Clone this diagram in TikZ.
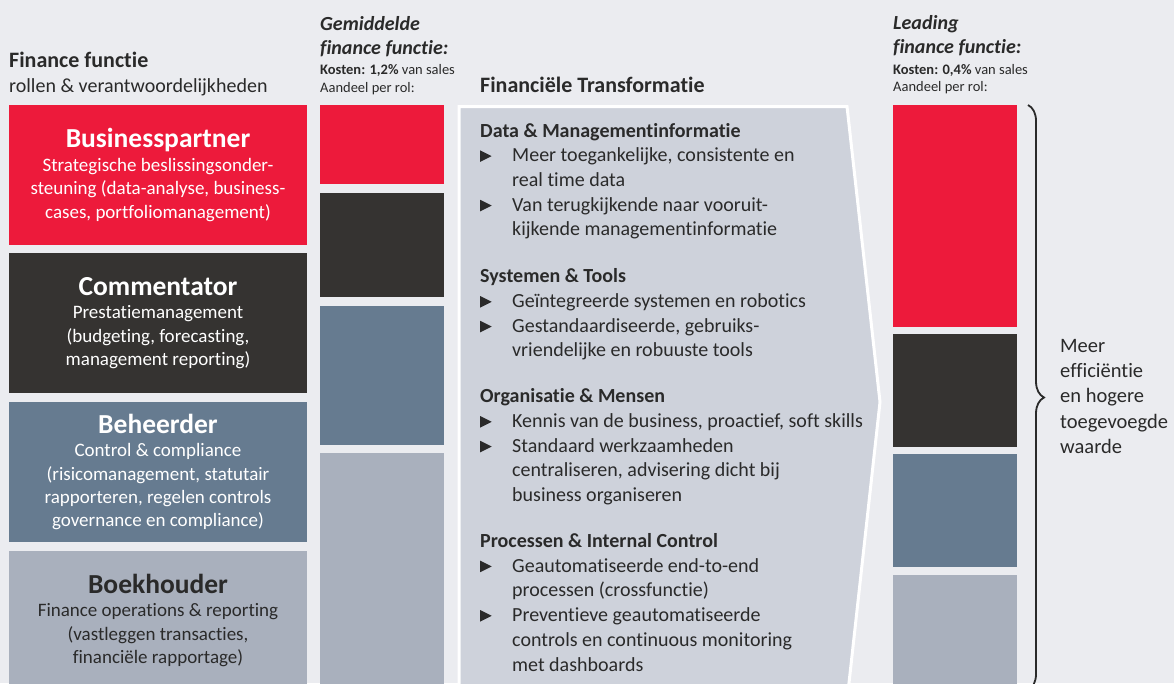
\documentclass[tikz,border=0pt]{standalone}
\usepackage{fontspec}
\setmainfont{Carlito}[Ligatures=NoCommon]
\usepackage{tikz}
\usetikzlibrary{decorations.pathreplacing}

\definecolor{bgGrey}{HTML}{EBECF0}
\definecolor{bpRed}{HTML}{ED1A3B}
\definecolor{cmDark}{HTML}{353331}
\definecolor{bhSlate}{HTML}{667B90}
\definecolor{bkLight}{HTML}{A9B0BD}
\definecolor{arrowGrey}{HTML}{CED2DB}
\definecolor{txtDark}{HTML}{2A2A2A}

\newcommand{\bul}{\makebox[32pt][l]{\tikz[baseline=0pt]\fill[txtDark] (0pt,0pt)--(0pt,11.5pt)--(11.5pt,5.75pt)--cycle;}}
\newcommand{\ind}{\hspace*{32pt}}
\newcommand{\roletitle}[1]{{\fontsize{27.5}{23.4}\selectfont\bfseries #1}}

\begin{document}
\begin{tikzpicture}[x=1pt,y=-1pt,
    rolebox/.style={minimum width=298pt,minimum height=140pt,inner sep=0pt,align=center,text=white,font=\fontsize{19}{23.4}\selectfont},
    bodytext/.style={anchor=north west,inner sep=0pt,align=left,text=txtDark,font=\fontsize{20}{24.7}\selectfont},
    headtext/.style={anchor=base west,inner sep=0pt,text=txtDark},
    bigitalic/.style={headtext,font=\fontsize{20}{24}\selectfont\bfseries\itshape},
    smalltext/.style={headtext,font=\fontsize{14.5}{18}\selectfont}]
                          \fill[bgGrey] (0,0) rectangle (1174,683);
                          \useasboundingbox (0,0) rectangle (1174,683);
                          \begin{scope}
                          \clip (0,0) rectangle (1174,683);
                          % rollen
                          \node[rolebox,fill=bpRed] (bp) at (158,175) {\roletitle{Businesspartner}\\Strategische beslissingsonder-\\steuning (data-analyse, business-\\cases, portfoliomanagement)};
                          \node[rolebox,fill=cmDark] (cm) at (158,323) {\roletitle{Commentator}\\Prestatiemanagement\\(budgeting, forecasting,\\management reporting)};
                          \node[rolebox,fill=bhSlate] (bh) at (158,472) {\roletitle{Beheerder}\\Control \& compliance\\(risicomanagement, statutair\\rapporteren, regelen controls\\governance en compliance)};
                          \node[rolebox,fill=bkLight,text=txtDark,minimum height=139pt] (bk) at (158,620.5) {\roletitle{Boekhouder}\\Finance operations \& reporting\\(vastleggen transacties,\\financi\"ele rapportage)};
                          % gemiddelde finance functie
                          \fill[bpRed] (320,105) rectangle (444,184);
                          \fill[cmDark] (320,193) rectangle (444,297);
                          \fill[bhSlate] (320,306) rectangle (444,445);
                          \fill[bkLight] (320,453) rectangle (444,690);
                          % leading finance functie
                          \fill[bpRed] (893,105) rectangle (1017,327);
                          \fill[cmDark] (893,334) rectangle (1017,447);
                          \fill[bhSlate] (893,454) rectangle (1017,567);
                          \fill[bkLight] (893,575) rectangle (1017,690);
                          % transformatie pijl
                          \filldraw[fill=arrowGrey,draw=white,line width=3pt,line join=miter]
                            (459,106.5) -- (847,106.5) -- (880,402) -- (848,692) -- (459,692) -- cycle;
                          \end{scope}
                          \node[bodytext] (dmi) at (480,119.7) {\strut\textbf{Data \& Managementinformatie}\\
                            \bul Meer toegankelijke, consistente en\\
                            \ind real time data\\
                            \bul Van terugkijkende naar vooruit-\\
                            \ind kijkende managementinformatie};
                          \node[bodytext] (syt) at (480,265.4) {\strut\textbf{Systemen \& Tools}\\
                            \bul Ge\"integreerde systemen en robotics\\
                            \bul Gestandaardiseerde, gebruiks-\\
                            \ind vriendelijke en robuuste tools};
                          \node[bodytext] (org) at (480,385.4) {\strut\textbf{Organisatie \& Mensen}\\
                            \bul Kennis van de business, proactief, soft skills\\
                            \bul Standaard werkzaamheden\\
                            \ind centraliseren, advisering dicht bij\\
                            \ind business organiseren};
                          \node[bodytext] (pic) at (480,530) {\strut\textbf{Processen \& Internal Control}\\
                            \bul Geautomatiseerde end-to-end\\
                            \ind processen (crossfunctie)\\
                            \bul Preventieve geautomatiseerde\\
                            \ind controls en continuous monitoring\\
                            \ind met dashboards};
                          % koppen
                          \node[headtext,font=\fontsize{22}{24}\selectfont\bfseries] (ffTitle) at (9,67.7) {Finance functie};
                          \node[headtext,font=\fontsize{20}{24}\selectfont] (ffSub) at (9,92.5) {rollen \& verantwoordelijkheden};
                          \node[bigitalic] (gemA) at (320,30) {Gemiddelde};
                          \node[bigitalic] (gemB) at (320,54) {finance functie:};
                          \node[smalltext] (gemC) at (320,74) {\textbf{Kosten: 1,2\%} van sales};
                          \node[smalltext] (gemD) at (320,92.3) {Aandeel per rol:};
                          \node[headtext,font=\fontsize{22}{24}\selectfont\bfseries] (ftTitle) at (480,92.7) {Financi\"ele Transformatie};
                          \node[bigitalic] (leadA) at (893,29.3) {Leading};
                          \node[bigitalic] (leadB) at (893,53.3) {finance functie:};
                          \node[smalltext] (leadC) at (893,74) {\textbf{Kosten: 0,4\%} van sales};
                          \node[smalltext] (leadD) at (893,91.7) {Aandeel per rol:};
                          % accolade
                          \coordinate (braceTop) at (1028,105);
                          \coordinate (braceBot) at (1028,690);
                          \draw[decorate,decoration={brace,amplitude=16pt},line width=1.8pt,txtDark] (braceTop) -- (braceBot);
                          \node[bodytext,font=\fontsize{20.5}{25.25}\selectfont] (gain) at (1060,334.6) {\strut Meer\\effici\"entie\\en hogere\\toegevoegde\\waarde};
                        \end{tikzpicture}
\end{document}
